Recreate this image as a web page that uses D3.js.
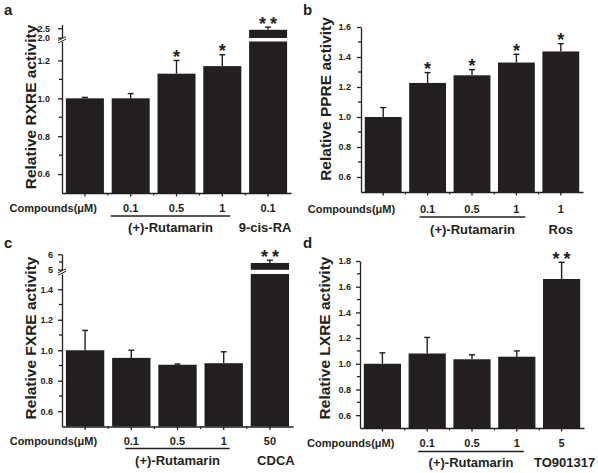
<!DOCTYPE html>
<html><head><meta charset="utf-8">
<script src="https://cdn.jsdelivr.net/npm/d3@7"></script>
<style>
body{margin:0;background:#fff;}
text{font-family:"Liberation Sans",Arial,sans-serif;font-weight:bold;fill:#231f20;}
</style></head>
<body><svg id="chart" width="598" height="473"></svg>
<script>
// ---- data ----
const categories = ["Control", "Rut 0.1", "Rut 0.5", "Rut 1", "Reference"];
const doseLabels = ["", "0.1", "0.5", "1"];
const groupLabel = "(+)-Rutamarin";
const compoundsLabel = "Compounds(\u03bcM)";

const rxreValues = [1.00, 1.00, 1.13, 1.17, 2.42];
const rxreErrors = [0.005, 0.025, 0.07, 0.06, 0.14];
const rxreSig = ["", "", "*", "*", "**"];

const ppreValues = [1.00, 1.227, 1.278, 1.363, 1.437];
const ppreErrors = [0.063, 0.069, 0.038, 0.055, 0.052];
const ppreSig = ["", "*", "*", "*", "*"];

const fxreValues = [1.00, 0.95, 0.905, 0.915, 5.43];
const fxreErrors = [0.13, 0.05, 0.005, 0.075, 0.18];
const fxreSig = ["", "", "", "", "**"];

const lxreValues = [1.00, 1.08, 1.035, 1.055, 1.66];
const lxreErrors = [0.085, 0.125, 0.035, 0.045, 0.13];
const lxreSig = ["", "", "", "", "**"];

const refDoses = ["0.1", "1", "50", "5"];
const refNames = ["9-cis-RA", "Ros", "CDCA", "TO901317"];
const yTitles = ["Relative RXRE activity", "Relative PPRE activity", "Relative FXRE activity", "Relative LXRE activity"];
const panelLetters = ["a", "b", "c", "d"];

const ticksA = [0.6, 0.8, 1.0, 1.2], minorA = [0.7, 0.9, 1.1], upperTicksA = [2.0, 2.5], upperMinorA = [];
const ticksB = [0.6, 0.8, 1.0, 1.2, 1.4, 1.6], minorB = [0.7, 0.9, 1.1, 1.3, 1.5];
const ticksC = [0.6, 0.8, 1.0, 1.2, 1.4], minorC = [0.7, 0.9, 1.1, 1.3], upperTicksC = [5, 6], upperMinorC = [5.5];
const ticksD = [0.6, 0.8, 1.0, 1.2, 1.4, 1.6, 1.8], minorD = [0.7, 0.9, 1.1, 1.3, 1.5, 1.7];

// ---- layout ----
const panels = [
  {letter:[4,15], x0:62, x1:291, lower:{domain:[0.5,1.3], range:[193,41.5]}, upper:{domain:[2.0,2.7], range:[37.7,24.5], ticks:upperTicksA, minor:upperMinorA, fmt:".1f"},
   values:rxreValues, errors:rxreErrors, sig:rxreSig, ticks:ticksA, minor:minorA, tickBase:212, lineY:216, groupBase:232, lineL:-20, lineR:8, refOff:-3,
   title:[30,107], labelGap:12},
  {letter:[303,15], x0:361, x1:583, lower:{domain:[0.5,1.6], range:[192,27]}, upper:null,
   values:ppreValues, errors:ppreErrors, sig:ppreSig, ticks:ticksB, minor:minorB, tickBase:213, lineY:217, groupBase:234, lineL:-8, lineR:9, refOff:0,
   title:[325,99], labelGap:10},
  {letter:[4,248], x0:62, x1:293, lower:{domain:[0.5,1.5], range:[426.5,274]}, upper:{domain:[5,6], range:[269.5,254.3], ticks:upperTicksC, minor:upperMinorC, fmt:"d"},
   values:fxreValues, errors:fxreErrors, sig:fxreSig, ticks:ticksC, minor:minorC, tickBase:445, lineY:448.5, groupBase:465, lineL:-6, lineR:6, refOff:6,
   title:[30,338], labelGap:9},
  {letter:[303,248], x0:360, x1:584, lower:{domain:[0.5,1.8], range:[428,261]}, upper:null,
   values:lxreValues, errors:lxreErrors, sig:lxreSig, ticks:ticksD, minor:minorD, tickBase:447, lineY:451.5, groupBase:467, lineL:-9, lineR:7, refOff:3,
   title:[324,338], labelGap:9}
];

const ink = "#231f20";
const svg = d3.select("#chart");

panels.forEach((p, i) => {
  const g = svg.append("g");
  const x = d3.scaleBand().domain(categories).range([p.x0, p.x1]).paddingInner(0.17).paddingOuter(0.085);
  const yL = d3.scaleLinear().domain(p.lower.domain).range(p.lower.range);
  const yU = p.upper ? d3.scaleLinear().domain(p.upper.domain).range(p.upper.range) : null;
  const yBottom = p.lower.range[0];
  const cx = c => x(c) + x.bandwidth() / 2;

  // bars
  categories.forEach((c, k) => {
    const v = p.values[k], e = p.errors[k];
    let topY, errY;
    if (yU && v > p.lower.domain[1]) {
      g.append("rect").attr("x", x(c)).attr("width", x.bandwidth())
        .attr("y", p.lower.range[1]).attr("height", yBottom - p.lower.range[1]).attr("fill", ink);
      const ub = p.upper.range[0] + 0.3;
      topY = yU(v); errY = yU(v + e);
      g.append("rect").attr("x", x(c)).attr("width", x.bandwidth())
        .attr("y", topY).attr("height", ub - topY).attr("fill", ink);
    } else {
      topY = yL(v); errY = yL(v + e);
      g.append("rect").attr("x", x(c)).attr("width", x.bandwidth())
        .attr("y", topY).attr("height", yBottom - topY).attr("fill", ink);
    }
    g.append("line").attr("x1", cx(c)).attr("x2", cx(c)).attr("y1", topY).attr("y2", errY)
      .attr("stroke", ink).attr("stroke-width", 1.4);
    g.append("line").attr("x1", cx(c) - 3).attr("x2", cx(c) + 3).attr("y1", errY).attr("y2", errY)
      .attr("stroke", ink).attr("stroke-width", 1.4);
    if (p.sig[k]) {
      g.append("text").attr("x", cx(c) + (p.sig[k].length > 1 ? 2 : 0)).attr("y", errY + 2.5).attr("text-anchor", "middle")
        .attr("font-size", 18).attr("letter-spacing", p.sig[k].length > 1 ? 4 : 0)
        .text(p.sig[k]);
    }
  });

  // y axis lower
  const axL = d3.axisLeft(yL).tickValues(p.ticks).tickFormat(d3.format(".1f")).tickSize(4).tickSizeOuter(0).tickPadding(p.labelGap - 4);
  const gL = g.append("g").attr("transform", `translate(${p.x0},0)`).call(axL);
  gL.selectAll("text").attr("font-size", 9);
  gL.selectAll("path,line").attr("stroke", ink).attr("stroke-width", 1.3);
  gL.selectAll(".minor").data(p.minor).enter().append("line").attr("x1", -3).attr("x2", 0)
    .attr("y1", d => yL(d)).attr("y2", d => yL(d)).attr("stroke", ink).attr("stroke-width", 1.3);

  if (yU) {
    const axU = d3.axisLeft(yU).tickValues(p.upper.ticks).tickFormat(d3.format(p.upper.fmt)).tickSize(4).tickSizeOuter(0).tickPadding(p.labelGap - 4);
    const gU = g.append("g").attr("transform", `translate(${p.x0},0)`).call(axU);
    gU.selectAll("text").attr("font-size", 9);
    gU.selectAll("path,line").attr("stroke", ink).attr("stroke-width", 1.3);
    gU.selectAll(".minor").data(p.upper.minor).enter().append("line").attr("x1", -3).attr("x2", 0)
      .attr("y1", d => yU(d)).attr("y2", d => yU(d)).attr("stroke", ink).attr("stroke-width", 1.3);
    // break symbol
    const by = (p.upper.range[0] + p.lower.range[1]) / 2;
    g.append("line").attr("x1", p.x0).attr("x2", p.x0).attr("y1", p.upper.range[0]).attr("y2", p.lower.range[1])
      .attr("stroke", ink).attr("stroke-width", 1.3);
    g.append("polygon").attr("points", `${p.x0-4},${by+1} ${p.x0+4},${by-3} ${p.x0+4},${by-0.5} ${p.x0-4},${by+3.5}`)
      .attr("fill", "#fff");
    [[1, -3], [3.5, -0.5]].forEach(([a, b]) => {
      g.append("line").attr("x1", p.x0 - 4).attr("y1", by + a).attr("x2", p.x0 + 4).attr("y2", by + b)
        .attr("stroke", ink).attr("stroke-width", 1);
    });
  }

  // x axis
  const axX = d3.axisBottom(x).tickFormat("").tickSize(3.5).tickSizeOuter(0);
  const gX = g.append("g").attr("transform", `translate(0,${yBottom})`).call(axX);
  gX.selectAll("path,line").attr("stroke", ink).attr("stroke-width", 1.3);
  const step = x.step();
  const bounds = d3.range(1, categories.length).map(j => x(categories[j]) - (step - x.bandwidth()) / 2);
  gX.selectAll(".bnd").data(bounds).enter().append("line")
    .attr("x1", d => d).attr("x2", d => d).attr("y1", 0).attr("y2", 2.5).attr("stroke", ink).attr("stroke-width", 1.1);

  // x labels
  doseLabels.forEach((d, k) => {
    if (!d) return;
    g.append("text").attr("x", cx(categories[k])).attr("y", p.tickBase).attr("text-anchor", "middle")
      .attr("font-size", 11).text(d);
  });
  g.append("text").attr("x", cx(categories[4])).attr("y", p.tickBase).attr("text-anchor", "middle")
    .attr("font-size", 11).text(refDoses[i]);
  g.append("text").attr("x", cx(categories[0]) + 12).attr("y", p.tickBase).attr("text-anchor", "end")
    .attr("font-size", 11).text(compoundsLabel);
  const lx1 = cx(categories[1]) + p.lineL, lx2 = cx(categories[3]) + p.lineR;
  g.append("line").attr("x1", lx1).attr("x2", lx2).attr("y1", p.lineY).attr("y2", p.lineY)
    .attr("stroke", ink).attr("stroke-width", 1.6);
  g.append("text").attr("x", (lx1 + lx2) / 2).attr("y", p.groupBase).attr("text-anchor", "middle")
    .attr("font-size", 13).text(groupLabel);
  g.append("text").attr("x", cx(categories[4]) + p.refOff).attr("y", p.groupBase).attr("text-anchor", "middle")
    .attr("font-size", 13).text(refNames[i]);

  // y title
  g.append("text").attr("transform", `translate(${p.title[0]},${p.title[1]}) rotate(-90)`)
    .attr("text-anchor", "middle").attr("dominant-baseline", "central").attr("font-size", 15.5).text(yTitles[i]);

  // panel letter
  g.append("text").attr("x", p.letter[0]).attr("y", p.letter[1]).attr("font-size", 15).text(panelLetters[i]);
});
</script></body></html>
